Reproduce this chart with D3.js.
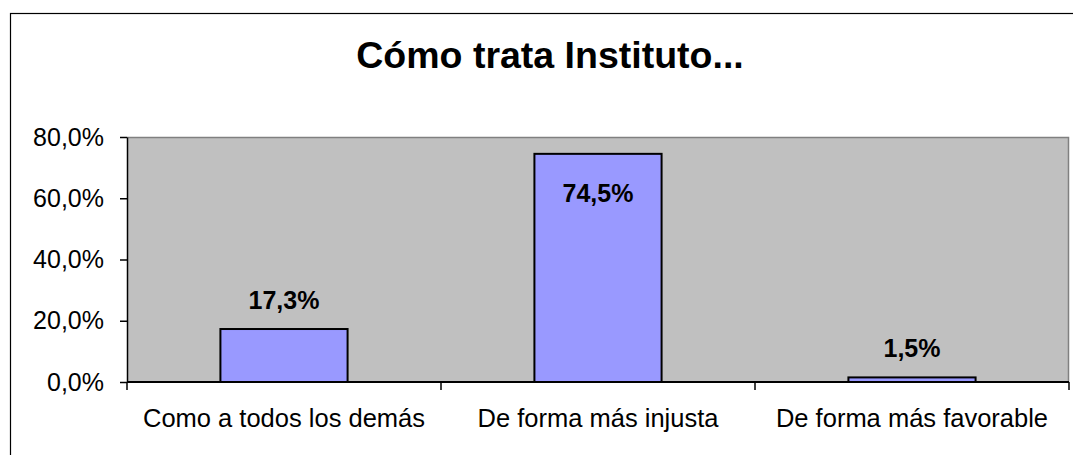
<!DOCTYPE html>
<html>
<head>
<meta charset="utf-8">
<script src="https://cdn.jsdelivr.net/npm/d3@7"></script>
<style>
    body { margin: 0; background: #fff; }
    svg { display: block; font-family: Arial, "Liberation Sans", sans-serif; }
</style>
</head>
<body>
<div id="chart"></div>
<script>
const categories = ['Como a todos los demás', 'De forma más injusta', 'De forma más favorable'];
const values = [0.173, 0.745, 0.015];
const yTicks = [0, 0.2, 0.4, 0.6, 0.8];
const chartTitle = 'Cómo trata Instituto...';

const width = 1073,
    height = 455;
const plot = { left: 127, right: 1069, top: 137, bottom: 382 };

const pct = d => (d * 100).toFixed(1).replace('.', ',') + '%';

const svg = d3.select('#chart').append('svg')
    .attr('width', width)
    .attr('height', height);

// outer chart frame (runs off the right and bottom edge in the original)
svg.append('rect')
    .attr('x', 10.5)
    .attr('y', 13.5)
    .attr('width', 1080)
    .attr('height', 500)
    .attr('fill', '#fff')
    .attr('stroke', '#000')
    .attr('stroke-width', 1.2);

svg.append('text')
    .attr('x', 550)
    .attr('y', 68)
    .attr('text-anchor', 'middle')
    .style('font-size', '37.5px')
    .style('font-weight', 'bold')
    .text(chartTitle);

const xCat = d3.scaleBand()
    .domain(categories)
    .range([plot.left, plot.right]);

const xBar = d3.scaleBand()
    .domain(categories)
    .range([plot.left, plot.right])
    .paddingInner(0.595)
    .paddingOuter(0.2975);

const yScale = d3.scaleLinear()
    .domain([0, 0.8])
    .range([plot.bottom, plot.top]);

// plot area
svg.append('rect')
    .attr('x', plot.left)
    .attr('y', plot.top)
    .attr('width', plot.right - plot.left)
    .attr('height', plot.bottom - plot.top)
    .attr('fill', '#c0c0c0');

svg.append('path')
    .attr('d', `M${plot.left},${plot.top + 0.5}H${plot.right - 0.5}V${plot.bottom}`)
    .attr('fill', 'none')
    .attr('stroke', '#808080')
    .attr('stroke-width', 1.5);

// bars
svg.selectAll('.bar')
    .data(values)
    .enter()
    .append('rect')
    .attr('class', 'bar')
    .attr('x', (d, i) => xBar(categories[i]))
    .attr('y', d => yScale(d))
    .attr('width', xBar.bandwidth())
    .attr('height', d => plot.bottom - yScale(d))
    .attr('fill', '#9999ff')
    .attr('stroke', '#000')
    .attr('stroke-width', 2);

// data labels, pushed inside the bar when there is no room above it
svg.selectAll('.label')
    .data(values)
    .enter()
    .append('text')
    .attr('class', 'label')
    .attr('x', (d, i) => xBar(categories[i]) + xBar.bandwidth() / 2)
    .attr('y', d => {
        const top = yScale(d);
        return top - 38 < plot.top ? top + 48 : top - 20;
    })
    .attr('text-anchor', 'middle')
    .style('font-size', '25px')
    .style('font-weight', 'bold')
    .text(pct);

// y axis
const yAxis = d3.axisLeft(yScale)
    .tickValues(yTicks)
    .tickFormat(pct)
    .tickSizeInner(7)
    .tickSizeOuter(0)
    .tickPadding(16);

const gY = svg.append('g')
    .attr('transform', `translate(${plot.left},0)`)
    .call(yAxis);

gY.selectAll('text')
    .style('font-size', '25px')
    .style('font-family', 'Arial, "Liberation Sans", sans-serif')
    .attr('fill', '#000');
gY.selectAll('line').attr('stroke', '#000').attr('stroke-width', 1.5);
gY.select('.domain').attr('stroke', '#000').attr('stroke-width', 1.5);

// x axis: ticks sit on the category boundaries
const gX = svg.append('g')
    .attr('transform', `translate(0,${plot.bottom})`);

gX.append('line')
    .attr('x1', plot.left)
    .attr('x2', plot.right)
    .attr('stroke', '#000')
    .attr('stroke-width', 2);

const boundaries = categories.map(c => xCat(c)).concat([plot.right]);
gX.selectAll('.tick')
    .data(boundaries)
    .enter()
    .append('line')
    .attr('x1', d => d)
    .attr('x2', d => d)
    .attr('y1', 0)
    .attr('y2', 8)
    .attr('stroke', '#000')
    .attr('stroke-width', 1.5);

gX.selectAll('.cat')
    .data(categories)
    .enter()
    .append('text')
    .attr('x', d => xCat(d) + xCat.bandwidth() / 2)
    .attr('y', 45)
    .attr('text-anchor', 'middle')
    .style('font-size', '25.5px')
    .text(d => d);
</script>
</body>
</html>
